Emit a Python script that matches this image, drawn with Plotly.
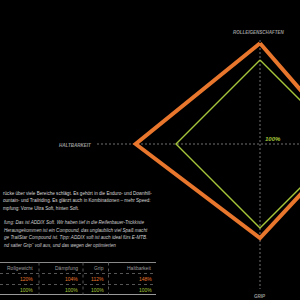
import numpy as np
import plotly.graph_objects as go

# ---- data ----
categories = ["Rollgewicht", "Dämpfung", "Grip", "Haltbarkeit"]
axis_labels = ["ROLLEIGENSCHAFTEN", "DÄMPFUNG", "GRIP", "HALTBARKEIT"]
angles_deg = [90, 0, -90, 180]
series_names = ["ADDIX Soft", "Referenz"]
orange_vals = [120, 104, 112, 148]
green_vals = [100, 100, 100, 100]
row_labels_orange = ["120%", "104%", "112%", "148%"]
row_labels_green = ["100%", "100%", "100%", "100%"]

text_lines = [
    "rücke über viele Bereiche schlägt. Es gehört in die Enduro- und Downhill-",
    "ountain- und Trailriding. Es glänzt auch in Kombinationen – mehr Speed:",
    "mpfung: Vorne Ultra Soft, hinten Soft.",
]
italic_lines = [
    "fung: Das ist ADDIX Soft. Wir haben tief in die Reifenbauer-Trickkiste",
    "Herausgekommen ist ein Compound, das unglaublich viel Spaß macht",
    "ge TrailStar Compound ist. Tipp: ADDIX soft ist auch ideal fürs E-MTB.",
    "nd satter Grip“ voll aus, und das wegen der optimierten",
]

ORANGE = "#e8762c"
GREEN = "#a6c63a"
GRID = "#707070"

# ---- geometry helpers (pixel scale) ----
W = H = 300
CX, CY = 260, 144          # centre of the radar in pixels
PX_PER = 0.84              # pixels per percent

def closed(vals):
    a = np.deg2rad(angles_deg + [angles_deg[0]])
    v = np.array(vals + [vals[0]], dtype=float)
    return v * np.cos(a), v * np.sin(a)

fig = go.Figure()
xo, yo = closed(orange_vals)
xg, yg = closed(green_vals)
fig.add_trace(go.Scatter(x=xg, y=yg, mode="lines", name=series_names[1],
                         line=dict(color=GREEN, width=1.4), hoverinfo="skip"))
fig.add_trace(go.Scatter(x=xo, y=yo, mode="lines", name=series_names[0],
                         line=dict(color=ORANGE, width=4), hoverinfo="skip"))

def dx(px):
    return (px - CX) / PX_PER

def dy(py):
    return (CY - py) / PX_PER

xr = [dx(0), dx(W)]
yr = [dy(H), dy(0)]

shapes = [
    dict(type="line", xref="x", yref="y", x0=dx(97), x1=dx(300), y0=0, y1=0,
         line=dict(color=GRID, width=1, dash="2px,2px"), layer="below"),
    dict(type="line", xref="x", yref="y", x0=0, x1=0, y0=dy(40), y1=dy(289),
         line=dict(color=GRID, width=1, dash="2px,2px"), layer="below"),
]

def P(px, py):
    return px / W, 1 - py / H

ann = []
def add_text(txt, px, py, size, color, xanchor="left", bold=False, italic=False):
    x, y = P(px, py)
    t = txt
    if bold:
        t = "<b>" + t + "</b>"
    if italic:
        t = "<i>" + t + "</i>"
    ann.append(dict(text=t, x=x, y=y, xref="paper", yref="paper",
                    xanchor=xanchor, yanchor="middle", showarrow=False,
                    font=dict(size=size, color=color, family="Liberation Sans, Arial")))

# axis labels
add_text(axis_labels[0], 259, 32, 4.5, "#9a9a9a", "center", bold=True, italic=True)
add_text(axis_labels[3], 94, 145, 4.5, "#9a9a9a", "right", bold=True, italic=True)
add_text(axis_labels[2], 260, 296, 4.5, "#9a9a9a", "center", bold=True, italic=True)
add_text("100%", 263, 139, 6, GREEN, "left", bold=True, italic=True)

# paragraph text (only the visible part of each line)
ys = [193, 200, 208]
for t, y in zip(text_lines, ys):
    add_text(t, 0.5, y, 4.6, "#d8d8d8", "left")
ys_i = [222, 230, 237, 245]
for t, y in zip(italic_lines, ys_i):
    add_text(t, 1.5, y, 4.6, "#cfcfcf", "left", italic=True)

# table
col_right = [35, 80, 106, 154]
for c, xr_ in zip(categories, col_right):
    add_text(c, xr_, 268, 5, "#9c9c9c", "right")
for v, xr_ in zip(row_labels_orange, col_right):
    add_text(v, xr_, 279, 5, ORANGE, "right")
for v, xr_ in zip(row_labels_green, col_right):
    add_text(v, xr_, 290, 5, GREEN, "right")

def pshape(x0, y0, x1, y1, color, dash="solid", width=1):
    a0, b0 = P(x0, y0)
    a1, b1 = P(x1, y1)
    shapes.append(dict(type="line", xref="paper", yref="paper", x0=a0, y0=b0,
                       x1=a1, y1=b1, line=dict(color=color, width=width, dash=dash)))

pshape(0, 262.5, 156, 262.5, "#8a8a8a")
pshape(0, 273.5, 156, 273.5, "#555555", "dot")
pshape(0, 284.5, 156, 284.5, "#555555", "dot")
pshape(0, 294.5, 156, 294.5, "#9a9a9a")
for sx in [39, 83, 108.5]:
    pshape(sx, 262.5, sx, 294.5, "#555555", "dot")

fig.update_layout(
    width=W, height=H, margin=dict(l=0, r=0, t=0, b=0),
    paper_bgcolor="black", plot_bgcolor="black", showlegend=False,
    xaxis=dict(range=xr, visible=False, fixedrange=True),
    yaxis=dict(range=yr, visible=False, fixedrange=True),
    shapes=shapes, annotations=ann,
)
fig.write_html("out.html")
